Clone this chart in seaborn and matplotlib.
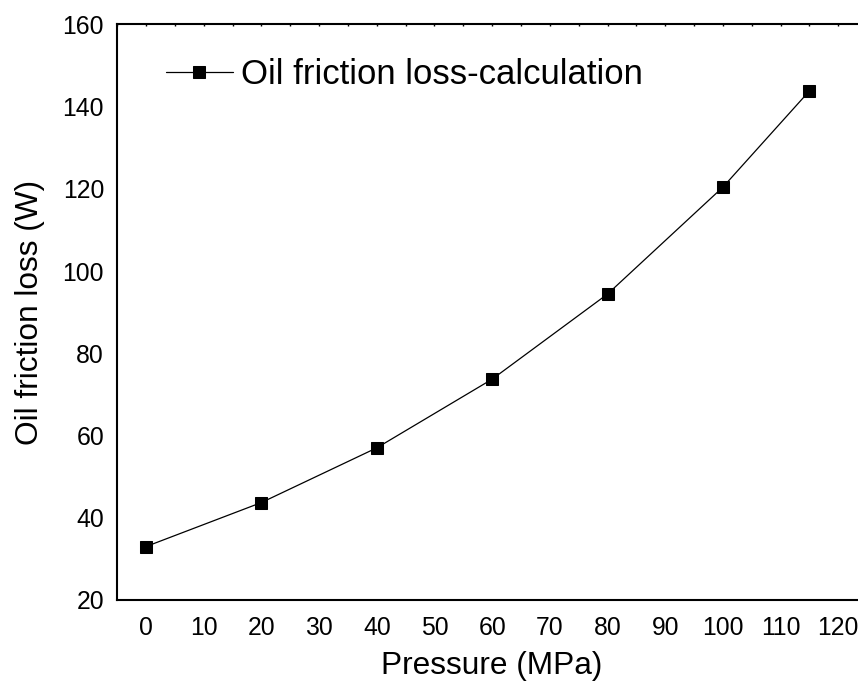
import matplotlib
matplotlib.use("Agg")
import matplotlib.pyplot as plt
from matplotlib.ticker import MultipleLocator
import seaborn as sns
import pandas as pd

pressure = [0, 20, 40, 60, 80, 100, 115]
friction_loss = [33.0, 43.7, 57.0, 73.7, 94.4, 120.4, 143.8]
series_label = "Oil friction loss-calculation"
x_label = "Pressure (MPa)"
y_label = "Oil friction loss (W)"

sns.set_theme(style="white")
plt.rcParams['font.family'] = ['Liberation Sans', 'DejaVu Sans']
plt.rcParams['text.color'] = 'black'
plt.rcParams['axes.labelcolor'] = 'black'

df = pd.DataFrame({"Pressure": pressure, "Loss": friction_loss})

fig = plt.figure(figsize=(8.58, 6.95), dpi=100)
ax = fig.add_axes([0.1366, 0.1367, 0.874, 0.8283])

sns.lineplot(data=df, x="Pressure", y="Loss", ax=ax, color="black",
             linewidth=0.9, marker="s", markersize=8.8, markeredgecolor="black",
             markerfacecolor="black", label=series_label)

ax.set_xlim(-5, 125)
ax.set_ylim(20, 160)
ax.xaxis.set_major_locator(MultipleLocator(10))
ax.xaxis.set_minor_locator(MultipleLocator(5))
ax.yaxis.set_major_locator(MultipleLocator(20))
ax.yaxis.set_minor_locator(MultipleLocator(10))

for s in ax.spines.values():
    s.set_color("black")
    s.set_linewidth(1.5)

ax.tick_params(axis="both", which="major", direction="in", length=7.2, width=1.0,
               color="black", labelsize=17.8, labelcolor="black")
ax.tick_params(axis="both", which="minor", direction="in", length=3.5, width=1.0,
               color="black")
ax.tick_params(axis="x", which="major", pad=11.3)
ax.tick_params(axis="y", which="major", pad=9.5)
ax.xaxis.set_tick_params(which="both", top=True)
for t in ax.xaxis.get_ticklines(minor=False)[1::2]:
    t.set_markersize(1.5)
for t in ax.xaxis.get_ticklines(minor=True)[1::2]:
    t.set_markersize(1.5)

ax.set_xlabel(x_label, fontsize=22.8, color="black", labelpad=8.5)
ax.set_ylabel(y_label, fontsize=22.8, color="black", labelpad=12.5)

leg = ax.legend(loc="upper left", bbox_to_anchor=(0.0647, 0.942), frameon=False,
                fontsize=25, handlelength=1.93, handletextpad=0.25,
                borderaxespad=0, borderpad=0)
for txt in leg.get_texts():
    txt.set_color("black")

fig.savefig("out.png", dpi=100)
